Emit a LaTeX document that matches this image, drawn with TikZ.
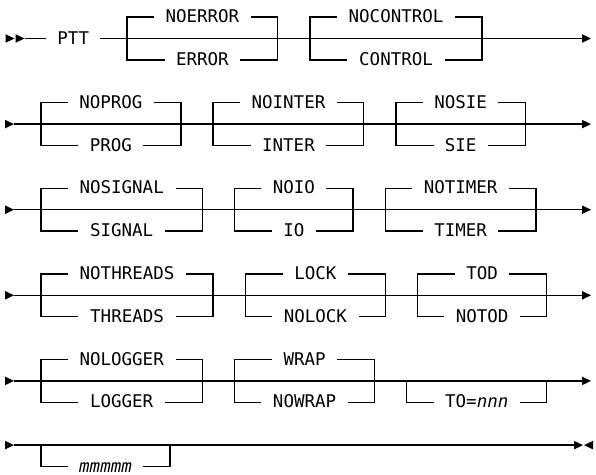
\documentclass[tikz,border=0pt]{standalone}
\usepackage{fontspec}
\setmainfont{DejaVu Sans Mono}[ItalicFont={DejaVu Sans Mono Oblique}]
\tikzset{
  rail/.style={line width=1.3pt, black},
  lbl/.style={inner sep=0pt, text height=12.7pt, text depth=1.4pt, font=\fontsize{17.5}{20}\selectfont},
  tip/.style={fill=black}
}
% choice box: #1 name, #2 start cell, #3 main y, #4 max len, #5 top text, #6 top len, #7 bottom text, #8 bottom len
\newcommand{\chbox}[8]{%
  \pgfmathsetmacro{\xa}{8.7+10.76*(#2)}%
  \pgfmathsetmacro{\xb}{8.7+10.76*(#2+#4+7)}%
  \pgfmathsetmacro{\xm}{(\xa+\xb)/2}%
  \pgfmathsetmacro{\wt}{10.76*(#6+2)}%
  \pgfmathsetmacro{\wb}{10.76*(#8+2)}%
  \coordinate (#1-tl) at (\xa,#3-21.4);
  \coordinate (#1-tr) at (\xb,#3-21.4);
  \coordinate (#1-bl) at (\xa,#3+21.4);
  \coordinate (#1-br) at (\xb,#3+21.4);
  \node[lbl,minimum width=\wt pt] (#1-t) at (\xm,#3-21.4) {#5};
  \node[lbl,minimum width=\wb pt] (#1-b) at (\xm,#3+21.4) {#7};
  \draw[rail] (#1-t.west) -- (#1-tl) -- (#1-bl) -- (#1-b.west);
  \draw[rail] (#1-t.east) -- (#1-tr) -- (#1-br) -- (#1-b.east);
}
% optional box (bottom branch only): #1 name, #2 start cell, #3 main y, #4 len, #5 text
\newcommand{\optbox}[5]{%
  \pgfmathsetmacro{\xa}{8.7+10.76*(#2)}%
  \pgfmathsetmacro{\xb}{8.7+10.76*(#2+#4+7)}%
  \pgfmathsetmacro{\xm}{(\xa+\xb)/2}%
  \pgfmathsetmacro{\wb}{10.76*(#4+2)}%
  \coordinate (#1-ml) at (\xa,#3);
  \coordinate (#1-mr) at (\xb,#3);
  \coordinate (#1-bl) at (\xa,#3+21.4);
  \coordinate (#1-br) at (\xb,#3+21.4);
  \node[lbl,minimum width=\wb pt] (#1-b) at (\xm,#3+21.4) {#5};
  \draw[rail] (#1-ml) -- (#1-bl) -- (#1-b.west);
  \draw[rail] (#1-mr) -- (#1-br) -- (#1-b.east);
}
\newcommand{\rowstart}[1]{\fill[tip] (#1) -- ++(-9,4.3) -- ++(0,-8.6) -- cycle;}
\newcommand{\rowend}[1]{\fill[tip] (#1) -- ++(0,4.3) -- ++(9,-4.3) -- ++(-9,-4.3) -- cycle;}
\begin{document}
\begin{tikzpicture}[x=1pt,y=-1pt]
\useasboundingbox (0,0) rectangle (596,474);

% ---------- row 1 ----------
\coordinate (r1a) at (14.5,38.5);
\coordinate (r1s) at (24.5,38.5);
\coordinate (r1e) at (582,38.5);
\node[lbl,minimum width=53.8pt] (ptt) at (73.26,38.5) {PTT};
\draw[rail] (r1s) -- (ptt.west);
\draw[rail] (ptt.east) -- (r1e);
\rowstart{r1a}
\rowstart{r1s}
\rowend{r1e}
\chbox{err}{11}{38.5}{7}{NOERROR}{7}{ERROR}{5}
\chbox{ctl}{28}{38.5}{9}{NOCONTROL}{9}{CONTROL}{7}

% ---------- row 2 ----------
\coordinate (r2s) at (14,124.1);
\coordinate (r2e) at (582,124.1);
\draw[rail] (r2s) -- (r2e);
\rowstart{r2s}
\rowend{r2e}
\chbox{prog}{3}{124.1}{6}{NOPROG}{6}{PROG}{4}
\chbox{inter}{19}{124.1}{7}{NOINTER}{7}{INTER}{5}
\chbox{sie}{36}{124.1}{5}{NOSIE}{5}{SIE}{3}

% ---------- row 3 ----------
\coordinate (r3s) at (14,209.7);
\coordinate (r3e) at (582,209.7);
\draw[rail] (r3s) -- (r3e);
\rowstart{r3s}
\rowend{r3e}
\chbox{sig}{3}{209.7}{8}{NOSIGNAL}{8}{SIGNAL}{6}
\chbox{io}{21}{209.7}{4}{NOIO}{4}{IO}{2}
\chbox{tim}{35}{209.7}{7}{NOTIMER}{7}{TIMER}{5}

% ---------- row 4 ----------
\coordinate (r4s) at (14,295.3);
\coordinate (r4e) at (582,295.3);
\draw[rail] (r4s) -- (r4e);
\rowstart{r4s}
\rowend{r4e}
\chbox{thr}{3}{295.3}{9}{NOTHREADS}{9}{THREADS}{7}
\chbox{lock}{22}{295.3}{6}{LOCK}{4}{NOLOCK}{6}
\chbox{tod}{38}{295.3}{5}{TOD}{3}{NOTOD}{5}

% ---------- row 5 ----------
\coordinate (r5s) at (14,380.9);
\coordinate (r5e) at (582,380.9);
\draw[rail] (r5s) -- (r5e);
\rowstart{r5s}
\rowend{r5e}
\chbox{log}{3}{380.9}{8}{NOLOGGER}{8}{LOGGER}{6}
\chbox{wrap}{21}{380.9}{6}{WRAP}{4}{NOWRAP}{6}
\optbox{to}{37}{380.9}{6}{TO=\textit{nnn}}

% ---------- row 6 ----------
\coordinate (r6s) at (14,445.1);
\coordinate (r6e) at (574,445.1);
\coordinate (r6x) at (593,445.1);
\draw[rail] (r6s) -- (r6e);
\rowstart{r6s}
\fill[tip] (r6e) -- ++(0,4.3) -- ++(9,-4.3) -- ++(-9,-4.3) -- cycle;
\fill[tip] (r6x) -- ++(0,4.3) -- ++(-9,-4.3) -- ++(9,-4.3) -- cycle;
\optbox{mm}{3}{445.1}{5}{\textit{mmmmm}}
\end{tikzpicture}
\end{document}
